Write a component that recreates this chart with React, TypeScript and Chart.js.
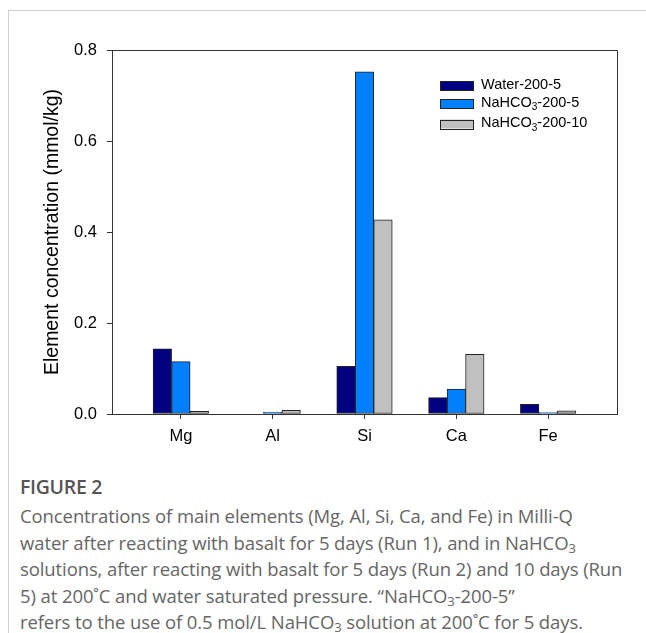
import React, { useEffect, useRef } from 'react';
import { Chart, registerables } from 'chart.js';

Chart.register(...registerables);

// ---- data ----
const categories = ['Mg', 'Al', 'Si', 'Ca', 'Fe'];
const water2005 = [0.143, 0, 0.105, 0.036, 0.021];
const nahco32005 = [0.115, 0.004, 0.752, 0.055, 0.003];
const nahco320010 = [0.006, 0.008, 0.427, 0.131, 0.007];
const seriesNames = ['Water-200-5', 'NaHCO\u2083-200-5', 'NaHCO\u2083-200-10'];
// legend text pieces: [base, subscript, rest]
const legendParts = [
  ['Water-200-5', '', ''],
  ['NaHCO', '3', '-200-5'],
  ['NaHCO', '3', '-200-10'],
];
const seriesColors = ['#000080', '#0080ff', '#c0c0c0'];
const yTicks = [0, 0.2, 0.4, 0.6, 0.8];
const yTitle = 'Element concentration (mmol/kg)';

const FONT = "'Liberation Sans', Arial, sans-serif";

const boxPlugin = {
  id: 'boxAndLegend',
  afterDraw(chart: any) {
    const { ctx, chartArea } = chart;
    const { left, right, top, bottom } = chartArea;
    ctx.save();
    ctx.strokeStyle = '#333';
    ctx.lineWidth = 1;
    ctx.beginPath();
    ctx.moveTo(left, Math.round(top) + 0.5);
    ctx.lineTo(Math.round(right) + 0.5, Math.round(top) + 0.5);
    ctx.lineTo(Math.round(right) + 0.5, bottom);
    ctx.stroke();

    // legend
    const rowOffsets = [35.5, 53.5, 74];
    const boxX = right - 177;
    const boxW = 33;
    const boxH = 9;
    chart.data.datasets.forEach((ds: any, i: number) => {
      const cy = top + rowOffsets[i];
      ctx.fillStyle = ds.backgroundColor;
      ctx.fillRect(boxX, cy - boxH / 2, boxW, boxH);
      ctx.strokeStyle = '#222';
      ctx.lineWidth = 1;
      ctx.strokeRect(Math.round(boxX) + 0.5, Math.round(cy - boxH / 2) + 0.5, boxW, boxH);
      const [base, sub, rest] = legendParts[i];
      let tx = boxX + boxW + 8;
      const ty = cy - 1;
      ctx.fillStyle = '#000';
      ctx.textBaseline = 'middle';
      ctx.textAlign = 'left';
      ctx.font = `14.5px ${FONT}`;
      ctx.fillText(base, tx, ty);
      tx += ctx.measureText(base).width;
      if (sub) {
        ctx.font = `10px ${FONT}`;
        ctx.fillText(sub, tx, ty + 5);
        tx += ctx.measureText(sub).width;
      }
      if (rest) {
        ctx.font = `14.5px ${FONT}`;
        ctx.fillText(rest, tx, ty);
      }
    });
    ctx.restore();
  },
};

export default function App() {
  const canvasRef = useRef<HTMLCanvasElement | null>(null);

  useEffect(() => {
    const series = [water2005, nahco32005, nahco320010];
    const chart = new Chart(canvasRef.current as HTMLCanvasElement, {
      type: 'bar',
      data: {
        datasets: series.map((vals, i) => ({
          label: seriesNames[i],
          data: vals.map((v, j) => ({ x: j, y: v })),
          backgroundColor: seriesColors[i],
          borderColor: '#222',
          borderWidth: 1,
          borderSkipped: false,
          barThickness: 18.5,
        })),
      },
      options: {
        responsive: false,
        animation: false,
        devicePixelRatio: 1,
        layout: { padding: { left: 41, right: 29, top: 50, bottom: 0 } },
        plugins: {
          legend: { display: false },
          tooltip: { enabled: false },
        },
        scales: {
          x: {
            type: 'linear',
            min: -0.75,
            max: 4.75,
            offset: false,
            afterFit: (s: any) => { s.height = 46; },
            afterBuildTicks: (s: any) => {
              s.ticks = categories.map((_, j) => ({ value: j }));
            },
            ticks: {
              font: { family: FONT, size: 16.5 },
              color: '#000',
              padding: 8,
              maxRotation: 0,
              autoSkip: false,
              callback: (v: any) => categories[Number(v)] ?? '',
            },
            grid: {
              display: true,
              offset: false,
              drawOnChartArea: false,
              drawTicks: true,
              tickLength: 5,
              color: '#333',
            },
            border: { display: true, color: '#333', width: 1 },
          },
          y: {
            type: 'linear',
            min: 0,
            max: 0.8,
            afterFit: (s: any) => { s.width = 71; },
            afterBuildTicks: (s: any) => {
              s.ticks = yTicks.map((v) => ({ value: v }));
            },
            ticks: {
              font: { family: FONT, size: 16.5 },
              color: '#000',
              padding: 10,
              callback: (v: any) => Number(v).toFixed(1),
            },
            grid: {
              display: true,
              drawOnChartArea: false,
              drawTicks: true,
              tickLength: 5,
              color: '#333',
            },
            border: { display: true, color: '#333', width: 1 },
            title: {
              display: true,
              text: yTitle,
              color: '#000',
              font: { family: FONT, size: 19.5 },
              padding: { top: 0, bottom: 0 },
            },
          },
        },
      },
      plugins: [boxPlugin],
    } as any);
    return () => chart.destroy();
  }, []);

  const captionLines = [
    'Concentrations of main elements (Mg, Al, Si, Ca, and Fe) in Milli-Q',
    ['water after reacting with basalt for 5 days (Run 1), and in NaHCO', '3', ''],
    'solutions, after reacting with basalt for 5 days (Run 2) and 10 days (Run',
    ['5) at 200\u02daC and water saturated pressure. \u201cNaHCO', '3', '-200-5\u201d'],
    ['refers to the use of 0.5 mol/L NaHCO', '3', ' solution at 200\u02daC for 5 days.'],
  ];

  return (
    <div
      style={{
        position: 'absolute',
        left: 0,
        top: 0,
        width: 646,
        height: 633,
        overflow: 'hidden',
        background: '#fff',
      }}
    >
      <div
        style={{
          position: 'absolute',
          left: 8,
          top: 10,
          right: -2,
          bottom: -2,
          borderTop: '1px solid #d0d0d0',
          borderLeft: '1px solid #d0d0d0',
        }}
      />
      <canvas
        ref={canvasRef}
        width={646}
        height={460}
        style={{ position: 'absolute', left: 0, top: 0, width: 646, height: 460 }}
      />
      <div
        style={{
          position: 'absolute',
          left: 20,
          top: 474,
          fontFamily: "'Open Sans', sans-serif",
          color: '#666',
          whiteSpace: 'nowrap',
        }}
      >
        <div style={{ fontSize: 19.5, fontWeight: 600, color: '#555', lineHeight: '26px', letterSpacing: '-0.3px' }}>
          FIGURE 2
        </div>
        <div style={{ marginTop: 3 }}>
          {captionLines.map((ln, i) => (
            <div key={i} style={{ fontSize: 18.5, lineHeight: '26.5px', letterSpacing: '-0.1px' }}>
              {typeof ln === 'string' ? (
                ln
              ) : (
                <>
                  {ln[0]}
                  <sub style={{ fontSize: 13, verticalAlign: '-3px', lineHeight: 0 }}>{ln[1]}</sub>
                  {ln[2]}
                </>
              )}
            </div>
          ))}
        </div>
      </div>
    </div>
  );
}
